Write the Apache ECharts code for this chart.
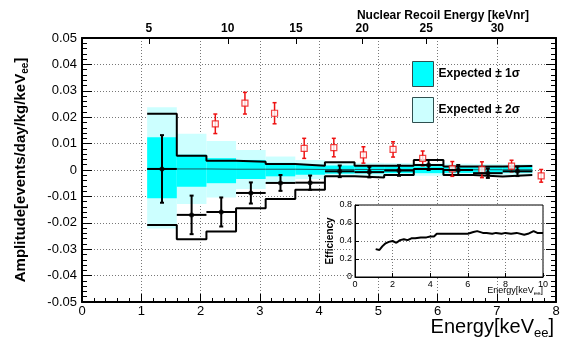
<!DOCTYPE html>
<html>
<head>
<meta charset="utf-8">
<script src="https://cdn.jsdelivr.net/npm/echarts@6/dist/echarts.min.js"></script>
<style>
html,body{margin:0;padding:0;background:#fff;}
#c{width:567px;height:349px;}
</style>
</head>
<body>
<div id="c"></div>
<script>
// ---- data ----
const binEdges = [1.1, 1.6, 2.1, 2.6, 3.1, 3.6, 4.1, 4.6, 5.1, 5.6, 6.1, 6.6, 7.1, 7.6];
const expectedCenter = [0.0004, 0.0004, 0.0003, 0.0003, 0.0003, 0.0002, 0.0002, 0.0002, 0.0002, 0.0002, 0.0001, 0.0001, 0.0001];
const sigma1Lo = [-0.0107, -0.0063, -0.0050, -0.0034, -0.0024, -0.0018, -0.0014, -0.0013, -0.0012, -0.0012, -0.0011, -0.0011, -0.0010];
const sigma1Hi = [0.0124, 0.0058, 0.0045, 0.0038, 0.0027, 0.0020, 0.0017, 0.0016, 0.0015, 0.0014, 0.0013, 0.0013, 0.0012];
const sigma2Lo = [-0.0222, -0.0129, -0.0104, -0.0072, -0.0047, -0.0034, -0.0026, -0.0024, -0.0023, -0.0022, -0.0021, -0.0020, -0.0019];
const sigma2Hi = [0.0238, 0.0137, 0.0110, 0.0076, 0.0051, 0.0038, 0.0029, 0.0027, 0.0026, 0.0025, 0.0024, 0.0023, 0.0022];
const boxUpper = [0.0213, 0.0054, 0.0035, 0.0031, 0.0023, 0.0016, 0.0029, 0.0016, 0.0016, 0.0038, 0.0013, 0.0013, 0.0015];
const boxLower = [-0.0208, -0.0262, -0.0233, -0.0145, -0.0110, -0.0075, -0.0024, -0.0028, -0.0019, 0.0004, -0.0019, -0.0025, -0.0019];

const dataX = [1.35, 1.85, 2.35, 2.85, 3.35, 3.85, 4.35, 4.85, 5.35, 5.85, 6.35, 6.85, 7.35];
const dataY = [0.0004, -0.0170, -0.0159, -0.0087, -0.0049, -0.0048, -0.0005, -0.0008, -0.0002, 0.0019, 0.0000, -0.0012, -0.0005];
const dataErr = [0.0128, 0.0073, 0.0055, 0.0040, 0.0030, 0.0027, 0.0022, 0.0020, 0.0020, 0.0019, 0.0019, 0.0018, 0.0018];

const redX = [2.25, 2.75, 3.25, 3.75, 4.25, 4.75, 5.25, 5.75, 6.25, 6.75, 7.25, 7.75];
const redY = [0.0175, 0.0253, 0.0215, 0.0082, 0.0085, 0.0057, 0.0078, 0.0044, 0.0004, 0.0001, 0.0015, -0.0022];
const redErr = [0.0037, 0.0041, 0.0040, 0.0038, 0.0035, 0.0031, 0.0029, 0.0028, 0.0028, 0.0030, 0.0022, 0.0024];

const effX = [1.1, 1.3, 1.45, 1.6, 1.8, 2.0, 2.2, 2.4, 2.6, 2.8, 3.0, 3.2, 3.5, 3.8, 4.0, 4.2, 4.35, 4.5, 5.0, 5.5, 6.0, 6.3, 6.5, 6.8, 7.0, 7.3, 7.5, 7.8, 8.0, 8.3, 8.6, 9.0, 9.2, 9.5, 9.7, 10.0];
const effY = [0.31, 0.30, 0.34, 0.37, 0.39, 0.40, 0.38, 0.41, 0.42, 0.41, 0.43, 0.43, 0.44, 0.44, 0.45, 0.45, 0.48, 0.48, 0.48, 0.48, 0.48, 0.50, 0.51, 0.49, 0.49, 0.48, 0.49, 0.48, 0.49, 0.48, 0.49, 0.47, 0.48, 0.51, 0.49, 0.49];

const nrLabels = ['5', '10', '15', '20', '25', '30'];
const nrPositions = [1.13, 2.46, 3.61, 4.73, 5.81, 7.01];

const FONT = 'Liberation Sans';

// ---- build ----
function bandData(lo, hi) {
  return lo.map((v, i) => [binEdges[i], binEdges[i + 1], v, hi[i]]);
}
function stepData(vals) {
  const d = vals.map((v, i) => [binEdges[i], v]);
  d.push([binEdges[binEdges.length - 1], vals[vals.length - 1]]);
  return d;
}
function rectItem(color) {
  return function (params, api) {
    const p1 = api.coord([api.value(0), api.value(3)]);
    const p2 = api.coord([api.value(1), api.value(2)]);
    return { type: 'rect', shape: { x: p1[0], y: p1[1], width: p2[0] - p1[0], height: p2[1] - p1[1] }, style: { fill: color } };
  };
}
const blackBars = dataX.map((x, i) => [x, dataY[i], dataErr[i], binEdges[i], binEdges[i + 1]]);
const redBars = redX.map((x, i) => [x, redY[i], redErr[i]]);

const chart = echarts.init(document.getElementById('c'), null, { renderer: 'canvas' });
const option = {
  animation: false,
  backgroundColor: '#fff',
  textStyle: { fontFamily: FONT },
  title: [
    { text: 'Nuclear Recoil Energy [keVnr]', right: 38, top: 10, padding: 0, itemGap: 0,
      textStyle: { fontSize: 12, fontWeight: 'bold', color: '#000', fontFamily: FONT } },
    { text: 'Energy[keV{s|ee}]', right: 13, top: 315, padding: 0, itemGap: 0,
      textStyle: { fontSize: 20, fontWeight: 'normal', color: '#000', fontFamily: FONT,
        rich: { s: { fontSize: 13, fontFamily: FONT, color: '#000', padding: [12, 0, 0, 0] } } } },
    { text: 'Energy[keV{s|ee}]', right: 24, top: 285, padding: 0, itemGap: 0,
      textStyle: { fontSize: 9, fontWeight: 'normal', color: '#000', fontFamily: FONT,
        rich: { s: { fontSize: 6, fontFamily: FONT, color: '#000', padding: [5, 0, 0, 0] } } } }
  ],
  grid: [
    { left: 82, top: 38, width: 474, height: 264 },
    { left: 355, top: 205, width: 188, height: 72, show: true, backgroundColor: '#fff', borderColor: '#000', borderWidth: 1, z: 10 }
  ],
  legend: {
    orient: 'vertical', left: 412, top: 61, itemWidth: 21, itemHeight: 25, itemGap: 10, padding: 0,
    icon: 'rect', selectedMode: false,
    textStyle: { fontFamily: FONT, fontWeight: 'bold', fontSize: 12, color: '#000' },
    data: [
      { name: 'Expected ± 1σ', itemStyle: { color: '#00ffff', borderColor: '#2f4f4f', borderWidth: 1 } },
      { name: 'Expected ± 2σ', itemStyle: { color: '#ccffff', borderColor: '#2f4f4f', borderWidth: 1 } }
    ]
  },
  xAxis: [
    {
      type: 'value', gridIndex: 0, min: 0, max: 8, interval: 1, position: 'bottom',
      axisLine: { show: true, onZero: false, lineStyle: { color: '#000', width: 2 } },
      axisTick: { show: true, inside: true, length: 8, lineStyle: { color: '#000', width: 1 } },
      minorTick: { show: true, splitNumber: 5, length: 4, lineStyle: { color: '#000' } },
      axisLabel: { fontSize: 13, color: '#000', margin: 3, fontFamily: FONT },
      splitLine: { show: true, lineStyle: { type: [1, 2], color: '#777', width: 1 } }
    },
    {
      type: 'value', gridIndex: 0, min: 0, max: 8, position: 'top',
      axisLine: { show: true, onZero: false, lineStyle: { color: '#000', width: 2 } },
      axisTick: { show: true, inside: true, length: 6, customValues: nrPositions, lineStyle: { color: '#000' } },
      axisLabel: { show: true, customValues: nrPositions, fontSize: 12, fontWeight: 'bold', color: '#000', margin: 3, fontFamily: FONT,
        formatter: function (v) { for (let i = 0; i < nrPositions.length; i++) { if (Math.abs(nrPositions[i] - v) < 1e-6) return nrLabels[i]; } return ''; } },
      splitLine: { show: false }
    },
    {
      type: 'value', gridIndex: 1, min: 0, max: 10, interval: 2, z: 11,
      axisLine: { show: true, onZero: false, lineStyle: { color: '#000', width: 1 } },
      axisTick: { show: true, inside: true, length: 4, lineStyle: { color: '#000' } },
      axisLabel: { fontSize: 9, color: '#000', margin: 3, fontFamily: FONT },
      splitLine: { show: true, lineStyle: { type: [1, 2], color: '#777' } }
    }
  ],
  yAxis: [
    {
      type: 'value', gridIndex: 0, min: -0.05, max: 0.05, interval: 0.01,
      axisLine: { show: true, onZero: false, lineStyle: { color: '#000', width: 2 } },
      axisTick: { show: true, inside: true, length: 10, lineStyle: { color: '#000' } },
      minorTick: { show: true, splitNumber: 5, length: 5, lineStyle: { color: '#000' } },
      axisLabel: { fontSize: 13, color: '#000', margin: 5, fontFamily: FONT,
        formatter: function (v) { const r = Math.round(v * 100) / 100; return r === 0 ? '0' : r.toFixed(2); } },
      splitLine: { show: true, lineStyle: { type: [1, 2], color: '#777', width: 1 } },
      name: 'Amplitude[events/day/kg/keV{s|ee}]', nameLocation: 'middle', nameGap: 52,
      nameTextStyle: { fontSize: 15, fontWeight: 'bold', color: '#000', fontFamily: FONT,
        rich: { s: { fontSize: 10, fontWeight: 'bold', fontFamily: FONT, color: '#000', padding: [9, 0, 0, 0] } } }
    },
    {
      type: 'value', gridIndex: 0, min: -0.05, max: 0.05, interval: 0.01, position: 'right',
      axisLine: { show: true, onZero: false, lineStyle: { color: '#000', width: 2 } },
      axisTick: { show: true, inside: true, length: 10, lineStyle: { color: '#000' } },
      minorTick: { show: true, splitNumber: 5, length: 5, lineStyle: { color: '#000' } },
      axisLabel: { show: false },
      splitLine: { show: false }
    },
    {
      type: 'value', gridIndex: 1, min: 0, max: 0.8, interval: 0.2, z: 11,
      axisLine: { show: true, onZero: false, lineStyle: { color: '#000', width: 1 } },
      axisTick: { show: true, inside: true, length: 4, lineStyle: { color: '#000' } },
      axisLabel: { fontSize: 9, color: '#000', margin: 3, fontFamily: FONT,
        formatter: function (v) { const r = Math.round(v * 10) / 10; return r === 0 ? '0' : r.toFixed(1); } },
      splitLine: { show: true, lineStyle: { type: [1, 2], color: '#777' } },
      name: 'Efficiency', nameLocation: 'middle', nameGap: 18,
      nameTextStyle: { fontSize: 10, fontWeight: 'bold', color: '#000', fontFamily: FONT }
    }
  ],
  series: [
    {
      name: 'Expected ± 2σ', type: 'custom', xAxisIndex: 0, yAxisIndex: 0, z: 2,
      renderItem: rectItem('#ccffff'), encode: { x: [0, 1], y: [2, 3] },
      itemStyle: { color: '#ccffff' }, data: bandData(sigma2Lo, sigma2Hi)
    },
    {
      name: 'Expected ± 1σ', type: 'custom', xAxisIndex: 0, yAxisIndex: 0, z: 3,
      renderItem: rectItem('#00ffff'), encode: { x: [0, 1], y: [2, 3] },
      itemStyle: { color: '#00ffff' }, data: bandData(sigma1Lo, sigma1Hi)
    },
    {
      name: 'expected', type: 'line', xAxisIndex: 0, yAxisIndex: 0, z: 4, step: 'end', symbol: 'none',
      lineStyle: { color: '#1b5b63', width: 1 }, data: stepData(expectedCenter)
    },
    {
      name: 'upper', type: 'line', xAxisIndex: 0, yAxisIndex: 0, z: 5, step: 'end', symbol: 'none',
      lineStyle: { color: '#000', width: 2 }, data: stepData(boxUpper)
    },
    {
      name: 'lower', type: 'line', xAxisIndex: 0, yAxisIndex: 0, z: 5, step: 'end', symbol: 'none',
      lineStyle: { color: '#000', width: 2 }, data: stepData(boxLower)
    },
    {
      name: 'redErr', type: 'custom', xAxisIndex: 0, yAxisIndex: 0, z: 6,
      encode: { x: 0, y: 1 },
      renderItem: function (params, api) {
        const x = api.value(0), y = api.value(1), e = api.value(2);
        const t = api.coord([x, y + e]), b = api.coord([x, y - e]);
        const st = { stroke: '#ee1111', lineWidth: 1.5 };
        return { type: 'group', children: [
          { type: 'line', shape: { x1: t[0], y1: t[1], x2: b[0], y2: b[1] }, style: st },
          { type: 'line', shape: { x1: t[0] - 2, y1: t[1], x2: t[0] + 2, y2: t[1] }, style: st },
          { type: 'line', shape: { x1: b[0] - 2, y1: b[1], x2: b[0] + 2, y2: b[1] }, style: st }
        ] };
      },
      data: redBars
    },
    {
      name: 'red', type: 'scatter', xAxisIndex: 0, yAxisIndex: 0, z: 7, symbol: 'rect', symbolSize: 6,
      itemStyle: { color: '#fff', borderColor: '#ee1111', borderWidth: 1.2 },
      data: redX.map((x, i) => [x, redY[i]])
    },
    {
      name: 'dataErr', type: 'custom', xAxisIndex: 0, yAxisIndex: 0, z: 8,
      encode: { x: 0, y: 1 },
      renderItem: function (params, api) {
        const x = api.value(0), y = api.value(1), e = api.value(2);
        const t = api.coord([x, y + e]), b = api.coord([x, y - e]);
        const l = api.coord([api.value(3), y]), r = api.coord([api.value(4), y]);
        const st = { stroke: '#000', lineWidth: 2 };
        return { type: 'group', children: [
          { type: 'line', shape: { x1: t[0], y1: t[1], x2: b[0], y2: b[1] }, style: st },
          { type: 'line', shape: { x1: t[0] - 2, y1: t[1], x2: t[0] + 2, y2: t[1] }, style: st },
          { type: 'line', shape: { x1: b[0] - 2, y1: b[1], x2: b[0] + 2, y2: b[1] }, style: st },
          { type: 'line', shape: { x1: l[0], y1: l[1], x2: r[0], y2: r[1] }, style: st }
        ] };
      },
      data: blackBars
    },
    {
      name: 'data', type: 'scatter', xAxisIndex: 0, yAxisIndex: 0, z: 9, symbol: 'circle', symbolSize: 5,
      itemStyle: { color: '#000' },
      data: dataX.map((x, i) => [x, dataY[i]])
    },
    {
      name: 'efficiency', type: 'line', xAxisIndex: 2, yAxisIndex: 2, z: 12, symbol: 'none',
      lineStyle: { color: '#000', width: 2 },
      data: effX.map((x, i) => [x, effY[i]])
    }
  ]
};
chart.setOption(option);
</script>
</body>
</html>
